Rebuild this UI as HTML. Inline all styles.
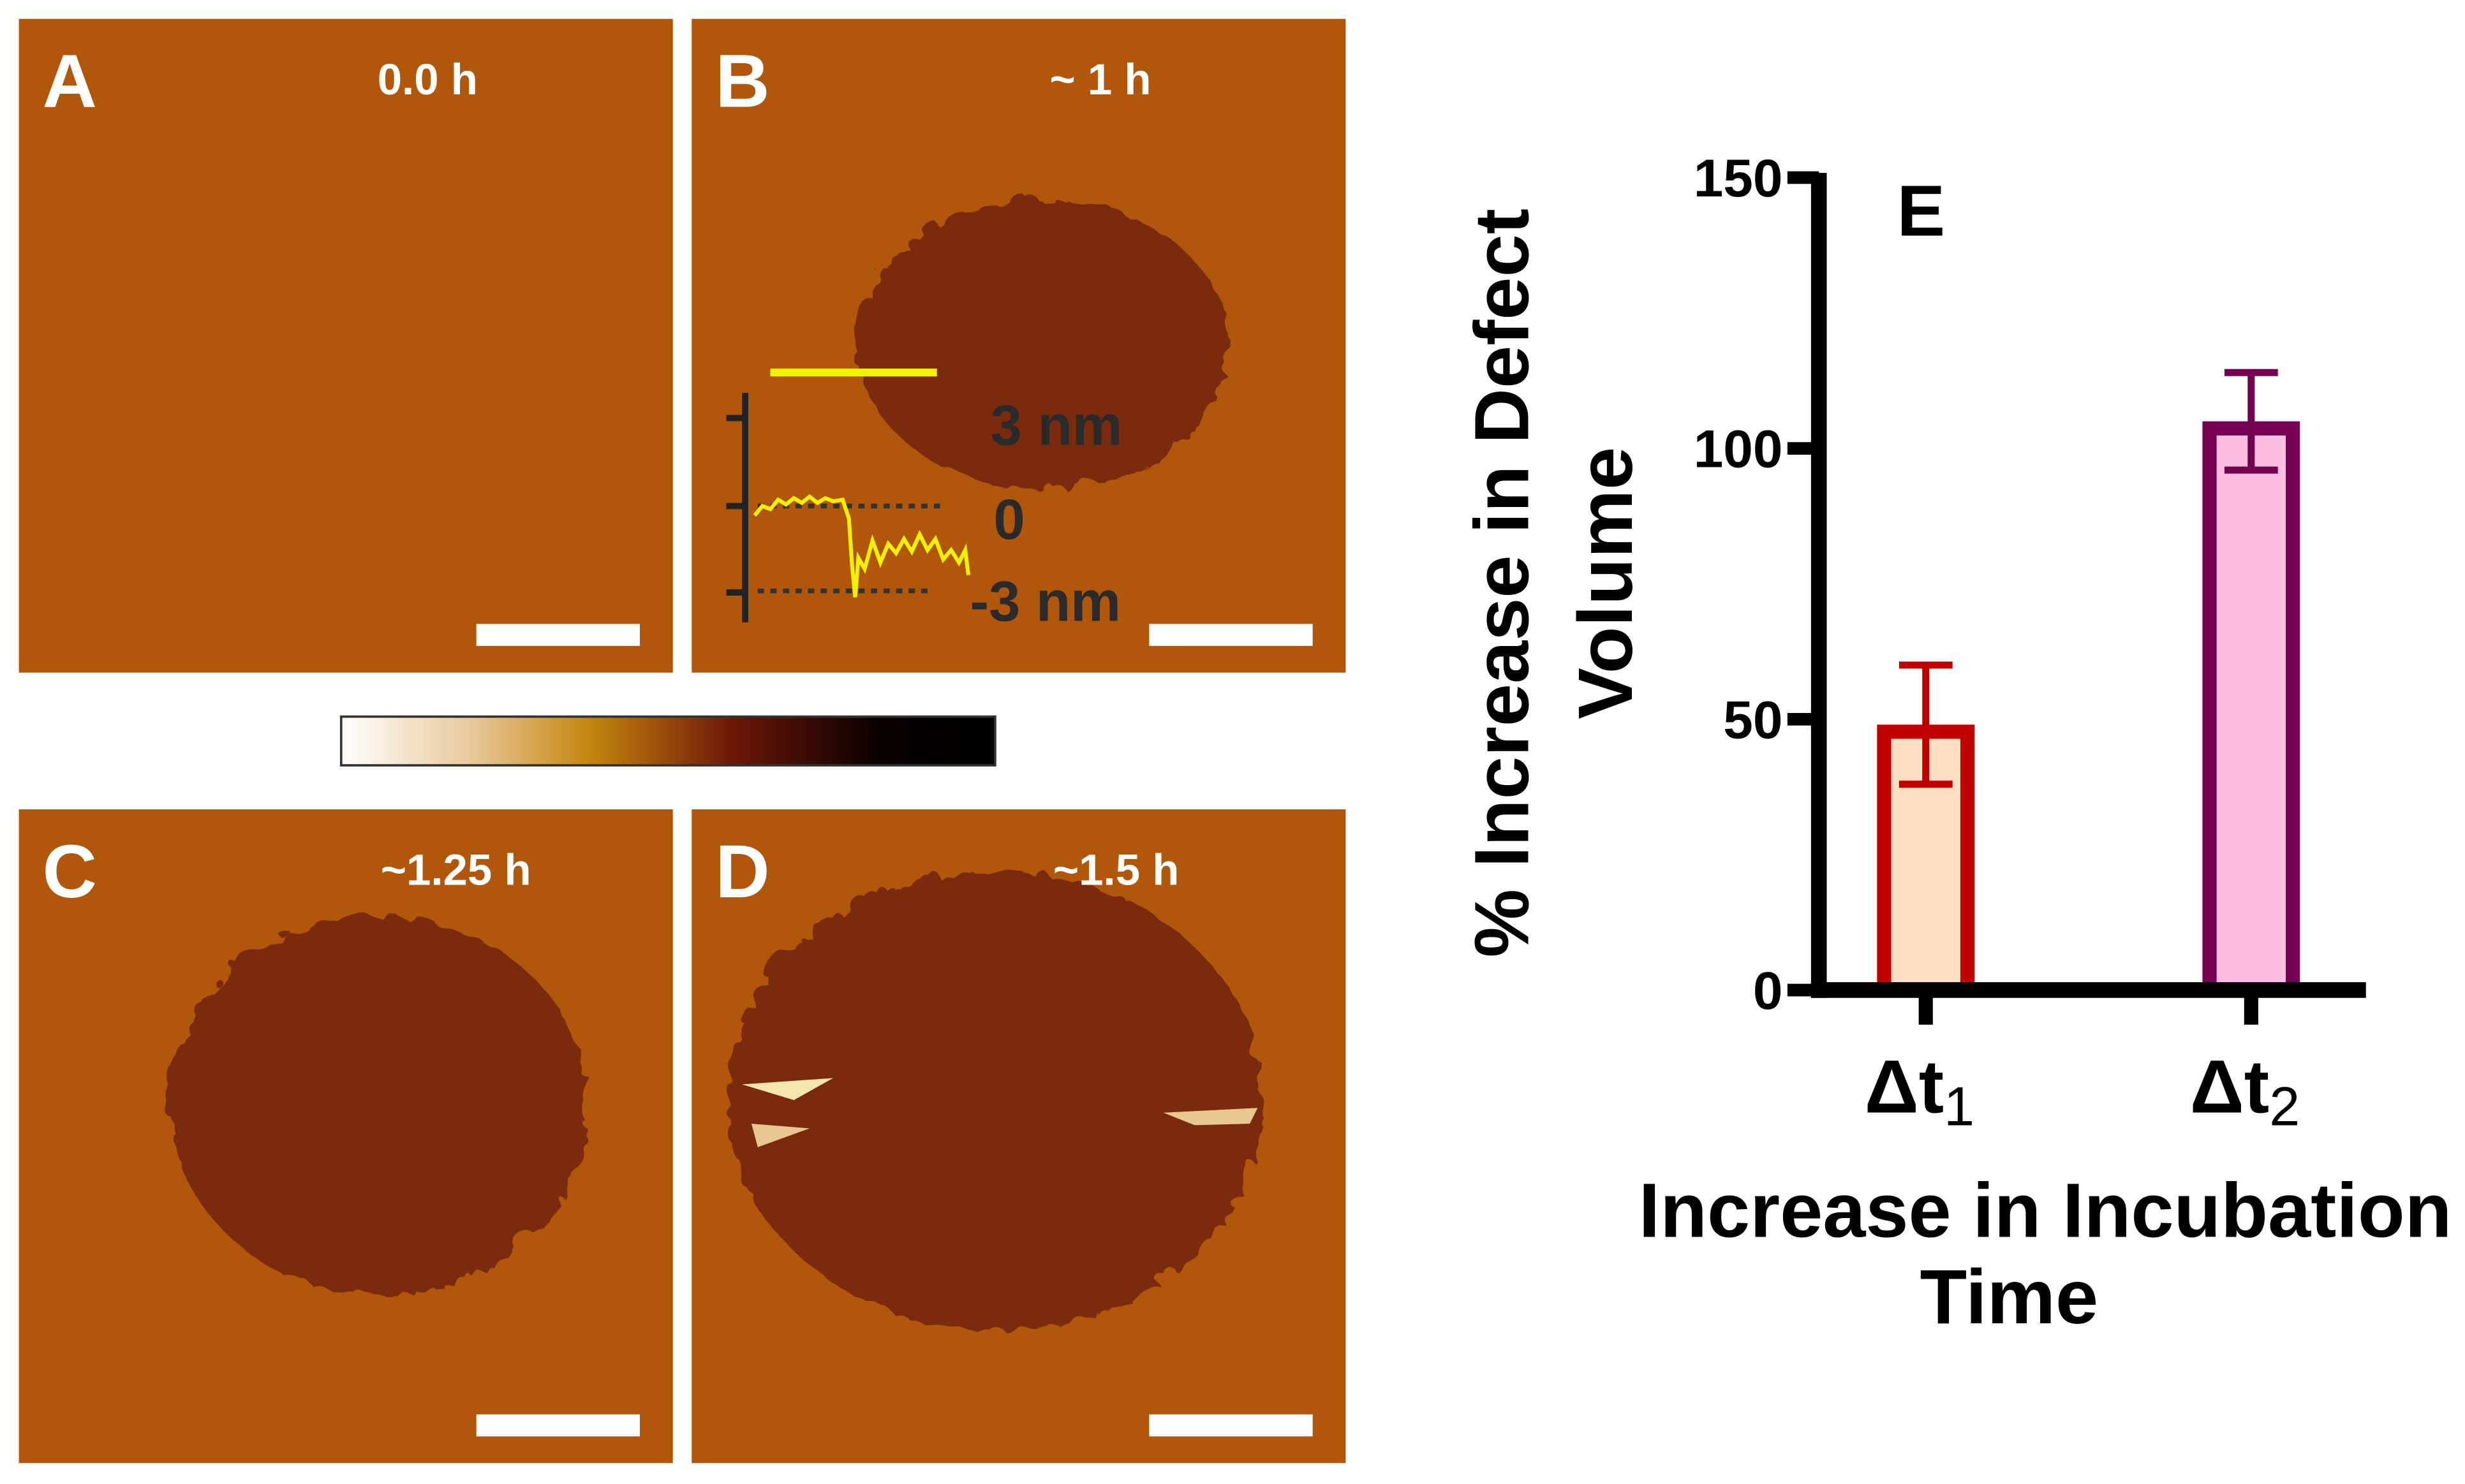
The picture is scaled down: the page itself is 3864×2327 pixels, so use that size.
<!DOCTYPE html>
<html><head><meta charset="utf-8"><style>
html,body{margin:0;padding:0;background:#fff}
svg{display:block}
text{font-family:"Liberation Sans",sans-serif;font-weight:bold}
</style></head><body>
<svg id="fig" width="3864" height="2327" viewBox="0 0 1568 944.3" xmlns="http://www.w3.org/2000/svg">
<defs>
<linearGradient id="cbar" x1="0" x2="1" y1="0" y2="0">
<stop offset="0" stop-color="#ffffff"/><stop offset="0.2" stop-color="#e8c89a"/><stop offset="0.38" stop-color="#c4860e"/><stop offset="0.6" stop-color="#6b1608"/><stop offset="0.82" stop-color="#0a0000"/><stop offset="1" stop-color="#000"/>
</linearGradient>
<filter id="rough"><feTurbulence baseFrequency="0.05" numOctaves="2" seed="3"/><feDisplacementMap in="SourceGraphic" scale="12"/></filter>
</defs>
<g>
<rect x="12" y="12" width="416" height="416" fill="#b0570c"/>
<text x="27" y="68" font-size="48" fill="#fff">A</text>
<text x="272" y="60" font-size="28" fill="#fff" text-anchor="middle">0.0 h</text>
<rect x="303" y="397" width="104" height="14" fill="#fff"/>
</g>
<g>
<rect x="440" y="12" width="416" height="416" fill="#b0570c"/>
<ellipse cx="660" cy="216" rx="118" ry="92" fill="#7a2b0e" filter="url(#rough)"/>
<text x="455" y="68" font-size="48" fill="#fff">B</text>
<text x="700" y="60" font-size="28" fill="#fff" text-anchor="middle">~ 1 h</text>
<line x1="490" y1="237" x2="596" y2="237" stroke="#f2f200" stroke-width="5"/>
<g>
<line x1="474" y1="250" x2="474" y2="396" stroke="#222" stroke-width="4"/>
<line x1="462" y1="266" x2="474" y2="266" stroke="#222" stroke-width="4"/>
<line x1="462" y1="322" x2="474" y2="322" stroke="#222" stroke-width="4"/>
<line x1="462" y1="377" x2="474" y2="377" stroke="#222" stroke-width="4"/>
<line x1="482" y1="322" x2="600" y2="322" stroke="#333" stroke-width="3" stroke-dasharray="4,4"/>
<line x1="482" y1="376" x2="592" y2="376" stroke="#333" stroke-width="3" stroke-dasharray="4,4"/>
<polyline fill="none" stroke="#f0f000" stroke-width="2.5" points="480,328 485,322 490,324 495,318 500,321 505,317 510,320 515,316 520,320 525,317 530,319 536,318 540,330 542,360 544,380 546,355 550,362 555,344 560,358 565,346 570,352 575,343 580,351 585,340 590,350 595,343 600,356 605,350 610,358 614,350 616,366"/>
<text x="630" y="283" font-size="36" fill="#2a2a2a">3 nm</text>
<text x="632" y="343" font-size="36" fill="#2a2a2a">0</text>
<text x="617" y="395" font-size="36" fill="#2a2a2a">-3 nm</text>
</g>
<rect x="731" y="397" width="104" height="14" fill="#fff"/>
</g>
<rect x="217" y="456" width="416" height="31" fill="url(#cbar)" stroke="#333" stroke-width="1.5"/>
<g>
<rect x="12" y="515" width="416" height="416" fill="#b0570c"/>
<ellipse cx="238" cy="700" rx="133" ry="120" fill="#7a2b0e" filter="url(#rough)"/>
<text x="27" y="571" font-size="48" fill="#fff">C</text>
<text x="290" y="563" font-size="28" fill="#fff" text-anchor="middle">~1.25 h</text>
<rect x="303" y="900" width="104" height="14" fill="#fff"/>
</g>
<g>
<rect x="440" y="515" width="416" height="416" fill="#b0570c"/>
<ellipse cx="630" cy="697" rx="170" ry="146" fill="#7a2b0e" filter="url(#rough)"/>
<path d="M472 690 L530 686 L505 700 Z" fill="#f5e6b0"/>
<path d="M478 715 L515 718 L482 730 Z" fill="#e8c890"/>
<path d="M740 708 L800 705 L795 715 L760 716 Z" fill="#e8c890"/>
<text x="455" y="571" font-size="48" fill="#fff">D</text>
<text x="710" y="563" font-size="28" fill="#fff" text-anchor="middle">~1.5 h</text>
<rect x="731" y="900" width="104" height="14" fill="#fff"/>
</g>
<g id="chart"></g>
</svg>
<script>
const categories = ["t1", "t2"];
const values = [49, 105];
const errLow = [38, 96];
const errHigh = [60, 114];
const yTicks = [0, 50, 100, 150];
const fills = ["#fde0c4", "#fbbde0"];
const strokes = ["#c00000", "#730050"];

const NS = "http://www.w3.org/2000/svg";
const g = document.getElementById("chart");
const y0 = 630, y1 = 113, yMax = 150;
const yS = v => y0 - v / yMax * (y0 - y1);
const xAxis = 1157;
const xS = i => 1225 + i * 207;
const bw = 62;
function mk(tag, attrs, parent) {
  const e = document.createElementNS(NS, tag);
  for (const k in attrs) e.setAttribute(k, attrs[k]);
  (parent || g).appendChild(e);
  return e;
}
values.forEach((v, i) => {
  const r = mk("rect", {x: xS(i) - bw / 2 + 4.5, y: yS(v) + 4.5, width: bw - 9, height: y0 - yS(v) - 4.5, fill: fills[i], stroke: strokes[i], "stroke-width": 9});
  
  
  const eb = mk("path", {d: `M${xS(i)} ${yS(errHigh[i])} V${yS(errLow[i])} M${xS(i)-17} ${yS(errHigh[i])} H${xS(i)+17} M${xS(i)-17} ${yS(errLow[i])} H${xS(i)+17}`, stroke: strokes[i], "stroke-width": 4.5, fill: "none"});
  
  
  const tk = mk("line", {x1: xS(i), x2: xS(i), y1: y0, y2: y0 + 22, stroke: "#000", "stroke-width": 9});
  
  
  const lt = mk("text", {x: xS(i) - 4, y: 708, "font-size": 48, "text-anchor": "middle"});
  
  
  lt.textContent = "Δt";
  const sub = mk("tspan", {"font-size": 35, "font-weight": "normal", dy: 8}, lt);
  sub.textContent = String(i + 1);
});
const ya = mk("line", {x1: xAxis, x2: xAxis, y1: y1 - 3, y2: y0 + 5, stroke: "#000", "stroke-width": 10});


const xa = mk("line", {x1: xAxis - 5, x2: 1505, y1: y0, y2: y0, stroke: "#000", "stroke-width": 10});


yTicks.forEach(t => {
  const l = mk("line", {x1: xAxis - 20, x2: xAxis, y1: yS(t), y2: yS(t), stroke: "#000", "stroke-width": 8});
  
  
  const tx = mk("text", {x: xAxis - 23, y: yS(t) + 12, "font-size": 34, "text-anchor": "end"});
  
  
  tx.textContent = t;
});
const e = mk("text", {x: 1222, y: 150, "font-size": 46, "text-anchor": "middle"});


e.textContent = "E";
const yt = mk("text", {transform: "translate(972,371) rotate(-90)", "font-size": 49, "text-anchor": "middle"});


const t1 = mk("tspan", {x: 0, y: 0}, yt); t1.textContent = "% Increase in Defect";
const t2 = mk("tspan", {x: 0, y: 66}, yt); t2.textContent = "Volume";
const xt = mk("text", {x: 1300, y: 787, "font-size": 49, "text-anchor": "middle"});


const u1 = mk("tspan", {x: 1301, y: 787}, xt); u1.textContent = "Increase in Incubation";
const u2 = mk("tspan", {x: 1278, y: 842}, xt); u2.textContent = "Time";
</script>
</body></html>
